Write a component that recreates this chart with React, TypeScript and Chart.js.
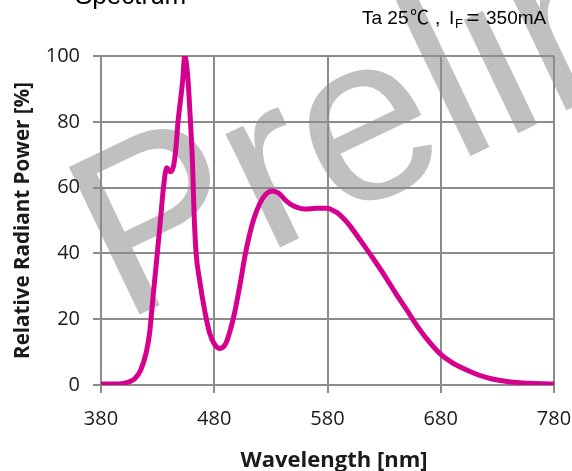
import React, { useEffect, useRef } from "react";
import { Chart, registerables } from "chart.js";

Chart.register(...registerables);

// ---- data ----
const wavelengthNm = [
  380, 390, 400, 405, 410, 415, 420, 423, 426, 430,
  433, 435, 438, 441.5, 444, 446, 448, 450, 452, 454,
  456, 457, 459, 460.5, 461.3, 462.2, 464, 467, 472, 476,
  480, 485, 490, 494, 498, 503, 507, 511, 515, 520,
  525, 531, 537, 542, 547, 553, 560, 570, 580, 585,
  590, 595, 600, 610, 620, 630, 640, 650, 660, 670,
  680, 690, 700, 710, 720, 730, 740, 750, 760, 770,
  780,
];
const relativePower = [
  0.3, 0.3, 0.5, 1, 2, 4.5, 10, 16, 27, 41,
  52, 59.5, 66, 64.8, 66.5, 71.4, 80, 86, 92, 100,
  96, 92, 80, 70, 62, 52, 40, 32, 21.8, 15.7,
  12.5, 11.1, 12.5, 16.5, 22, 31, 39, 45.5, 50.5, 55,
  57.8, 59, 58.3, 56.5, 55, 54, 53.5, 53.7, 53.7, 53,
  52, 50.3, 48.3, 43.5, 38.6, 33.5, 28, 22.8, 17.5, 13,
  9.3, 6.8, 5, 3.5, 2.3, 1.5, 1, 0.7, 0.5, 0.35,
  0.3,
];
const xTickValues = [380, 480, 580, 680, 780];
const yTickValues = [0, 20, 40, 60, 80, 100];
const chartTitle = "Spectrum";
const conditionParts = { ta: "Ta 25", deg: "℃", comma: ",", i: "I", sub: "F", eq: "=", current: "350mA" };
const xAxisTitle = "Wavelength [nm]";
const yAxisTitle = "Relative Radiant Power [%]";
const watermarkText = "Preliminary";

// ---- styles ----
const GRID = "#8c8c8c";
const LINE = "#d6008f";
const TEXT = "#1a1a1a";
const UI_FONT = "'Open Sans', 'Noto Sans', sans-serif";
const ARIAL = "'Liberation Sans', Arial, sans-serif";

export default function App() {
  const ref = useRef<HTMLCanvasElement>(null);

  useEffect(() => {
    const canvas = ref.current!;

    const watermark = {
      id: "watermark",
      beforeDraw(chart: any) {
        const ctx = chart.ctx;
        ctx.save();
        ctx.translate(122, 323);
        ctx.rotate((-25.6 * Math.PI) / 180);
        ctx.font = `238px ${ARIAL}`;
        ctx.fillStyle = "#c0c0c0";
        ctx.textAlign = "left";
        ctx.textBaseline = "alphabetic";
        ctx.fillText(watermarkText, 0, 0);
        ctx.restore();
      },
    };

    const texts = {
      id: "texts",
      afterDraw(chart: any) {
        const ctx = chart.ctx;
        ctx.save();
        ctx.fillStyle = "#000";
        ctx.textAlign = "left";
        ctx.textBaseline = "alphabetic";
        // title (cut at top edge)
        ctx.font = `26px ${ARIAL}`;
        ctx.fillText(chartTitle, 75, 4);
        // condition
        ctx.font = `19px ${ARIAL}`;
        ctx.fillText(conditionParts.ta, 362, 24);
        ctx.font = `19px 'Noto Sans CJK SC', ${ARIAL}`;
        ctx.fillText(conditionParts.deg, 410, 24);
        ctx.font = `19px ${ARIAL}`;
        ctx.fillText(conditionParts.comma, 435, 24);
        ctx.fillText(conditionParts.i, 449, 24);
        ctx.font = `13px ${ARIAL}`;
        ctx.fillText(conditionParts.sub, 455, 28);
        ctx.font = `22px ${ARIAL}`;
        ctx.textAlign = "center";
        ctx.fillText(conditionParts.eq, 473, 25);
        ctx.textAlign = "left";
        ctx.font = `19px ${ARIAL}`;
        ctx.fillText(conditionParts.current, 486, 24);
        // axis titles
        ctx.fillStyle = TEXT;
        ctx.textAlign = "center";
        ctx.font = `bold 22px ${UI_FONT}`;
        ctx.fillText(xAxisTitle, 334, 467);
        ctx.font = `bold 20.6px ${UI_FONT}`;
        ctx.translate(29, 220.5);
        ctx.rotate(-Math.PI / 2);
        ctx.fillText(yAxisTitle, 0, 0);
        ctx.restore();
      },
    };

    const gridOpts = { color: GRID, lineWidth: 2, tickLength: 8, tickColor: GRID, drawTicks: true };
    const borderOpts = { color: GRID, width: 2 };

    const chart = new Chart(canvas, {
      type: "line",
      data: {
        datasets: [
          {
            data: wavelengthNm.map((x, i) => ({ x, y: relativePower[i] })),
            borderColor: LINE,
            borderWidth: 5,
            pointRadius: 0,
            fill: false,
            cubicInterpolationMode: "monotone",
            borderJoinStyle: "round",
            borderCapStyle: "round",
          },
        ],
      },
      options: {
        animation: false,
        responsive: false,
        devicePixelRatio: 1,
        layout: { padding: { left: 0, top: 56, right: 18, bottom: 0 } },
        plugins: { legend: { display: false }, tooltip: { enabled: false }, title: { display: false } },
        scales: {
          x: {
            type: "linear",
            min: 380,
            max: 780,
            afterBuildTicks: (s: any) => {
              s.ticks = xTickValues.map((v) => ({ value: v }));
            },
            afterFit: (s: any) => {
              s.height = 86;
              s.paddingLeft = 0;
              s.paddingRight = 0;
            },
            grid: gridOpts,
            border: borderOpts,
            ticks: { font: { family: UI_FONT, size: 20 }, color: TEXT, padding: 14, maxRotation: 0, autoSkip: false },
          },
          y: {
            type: "linear",
            min: 0,
            max: 100,
            afterBuildTicks: (s: any) => {
              s.ticks = yTickValues.map((v) => ({ value: v }));
            },
            afterFit: (s: any) => {
              s.width = 101;
              s.paddingTop = 0;
              s.paddingBottom = 0;
            },
            grid: gridOpts,
            border: borderOpts,
            ticks: { font: { family: UI_FONT, size: 20 }, color: TEXT, padding: 13, autoSkip: false },
          },
        },
      },
      plugins: [watermark, texts],
    } as any);

    return () => chart.destroy();
  }, []);

  return (
    <div style={{ position: "fixed", left: 0, top: 0, width: 572, height: 471, background: "#fff" }}>
      <canvas ref={ref} width={572} height={471} style={{ display: "block", width: 572, height: 471 }} />
    </div>
  );
}
